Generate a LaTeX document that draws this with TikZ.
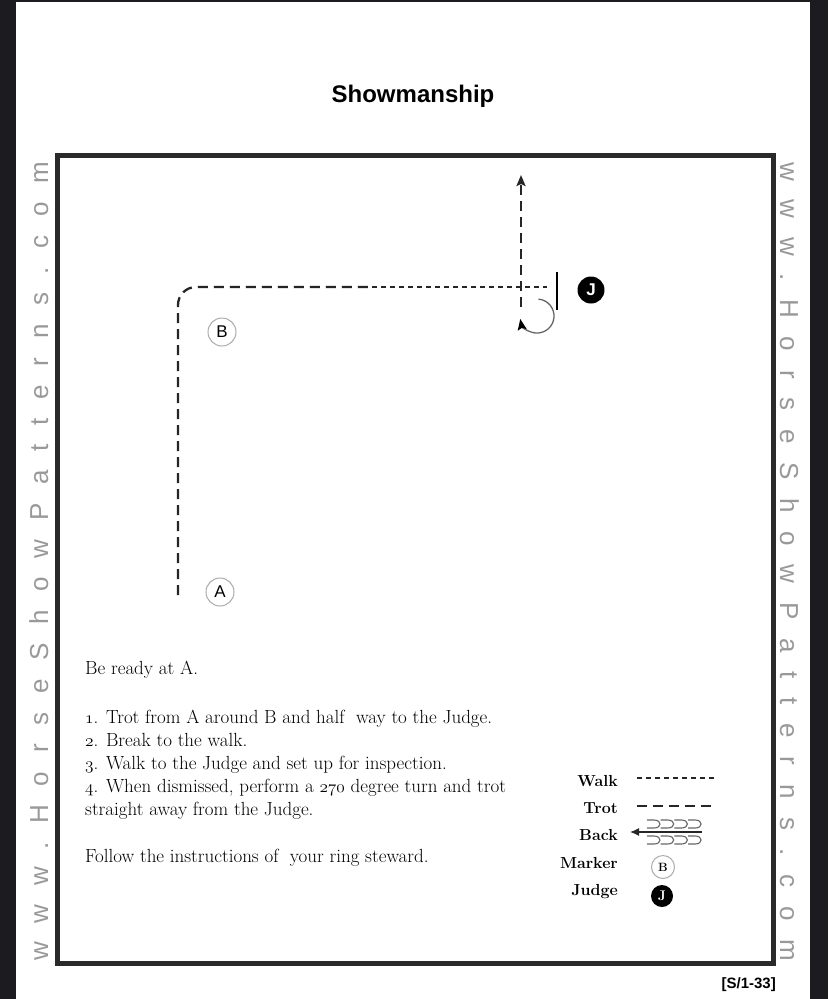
\documentclass[tikz,border=0pt]{standalone}
\usepackage{fontspec}
\usetikzlibrary{arrows.meta}
\newfontfamily\hsans{Liberation Sans}
\newfontfamily\wmfont[LetterSpace=72]{Liberation Sans}
\newcommand\osn[1]{{\fontencoding{OML}\fontfamily{cmm}\fontseries{m}\fontshape{it}\selectfont #1}}
\definecolor{pagebg}{HTML}{1C1C20}
\definecolor{arena}{HTML}{2A2A2A}
\definecolor{pathc}{HTML}{262626}
\definecolor{wmgray}{HTML}{999999}
\tikzset{
  wm/.style={font=\wmfont\fontsize{26}{26}\selectfont, text=wmgray, inner sep=0pt},
  trot/.style={draw=pathc, line width=2.3pt, dash pattern=on 10pt off 6pt},
  walk/.style={draw=pathc, line width=2.3pt, dash pattern=on 5pt off 4pt},
  marker/.style={circle, draw=gray!65, line width=1pt, minimum size=28pt, inner sep=0pt, font=\hsans\fontsize{17}{17}\selectfont},
  judge/.style={circle, fill=black, minimum size=27pt, inner sep=0pt, text=white, font=\hsans\bfseries\fontsize{17}{17}\selectfont},
  body/.style={anchor=base west, inner sep=0pt, align=left, font=\fontsize{19}{23}\selectfont},
  lgd/.style={anchor=base east, inner sep=0pt, font=\bfseries\fontsize{16}{16}\selectfont},
  ushape/.style={draw=gray!80!black, line width=1.1pt}
}
\begin{document}
\begin{tikzpicture}[x=1pt,y=-1pt]
\useasboundingbox (0,0) rectangle (828,999);
\fill[pagebg] (0,0) rectangle (828,999);
\fill[white] (16,2) rectangle (810,999);
% watermarks
\node[wm, rotate=90, anchor=base] (wmL) at (48,561) {www.HorseShowPatterns.com};
\node[wm, rotate=-90, anchor=base] (wmR) at (780,562) {www.HorseShowPatterns.com};
% title
\node[font=\hsans\bfseries\fontsize{24}{28}\selectfont] (title) at (413,96) {Showmanship};
% arena
\draw[line width=5pt, draw=arena] (57.5,155.5) rectangle (773.5,963.5);
% markers and judge
\node[marker] (B) at (222,332) {B};
\node[marker] (A) at (220,592) {A};
\node[judge] (J) at (591,290) {J};
\coordinate (jt) at (557,272);
\coordinate (jb) at (557,310);
\draw[line width=2.5pt] (jt) -- (jb);
% pattern
\coordinate (p0) at (178,595);
\coordinate (p1) at (178,287);
\coordinate (p2) at (372,287);
\coordinate (p3) at (547,287);
\coordinate (q0) at (521,307);
\coordinate (q1) at (521,175);
\draw[trot, rounded corners=18pt] (p0) -- (p1) -- (p2);
\draw[walk] (p2) -- (p3);
\draw[trot, -{Stealth[length=11pt,width=9pt,inset=2pt]}] (q0) -- (q1);
\draw[draw=gray!80!black, line width=1.3pt, -{Stealth[length=11pt,width=9pt,inset=2pt,black]}] (538.5,299.1) arc[start angle=-85, end angle=170, radius=17];
% text
\node[body] (t0) at (85,674) {Be ready at A.};
\node[body] (t1) at (85,815) {\osn{1}. Trot from A around B and half\ \ way to the Judge.\\
\osn{2}. Break to the walk.\\
\osn{3}. Walk to the Judge and set up for inspection.\\
\osn{4}. When dismissed, perform a \osn{270} degree turn and trot\\
straight away from the Judge.};
\node[body] (t2) at (85,862) {Follow the instructions of\ \ your ring steward.};
% legend
\node[lgd] (lw) at (618,786) {Walk};
\node[lgd] (lt) at (618,813) {Trot};
\node[lgd] (lb) at (618,840) {Back};
\node[lgd] (lm) at (618,868) {Marker};
\node[lgd] (lj) at (618,895) {Judge};
\coordinate (w0) at (637,778); \coordinate (w1) at (715,778);
\coordinate (r0) at (637,806); \coordinate (r1) at (715,806);
\draw[walk, line width=2pt] (w0) -- (w1);
\draw[trot, line width=2pt] (r0) -- (r1);
\coordinate (b0) at (702,832); \coordinate (b1) at (630,832);
\draw[draw=pathc, line width=1.3pt, -{Latex[length=9pt,width=8pt]}] (b0) -- (b1);
\foreach \i in {0,...,3}{
  \draw[ushape] (647+13.7*\i,820) -- (654+13.7*\i,820) .. controls (662+13.7*\i,820) and (662+13.7*\i,828) .. (654+13.7*\i,828) -- (647+13.7*\i,828);
  \draw[ushape] (647+13.7*\i,836) -- (654+13.7*\i,836) .. controls (662+13.7*\i,836) and (662+13.7*\i,844) .. (654+13.7*\i,844) -- (647+13.7*\i,844);
}
\node[marker, minimum size=23pt, font=\bfseries\fontsize{12}{12}\selectfont] (LB) at (663,867) {B};
\node[judge, minimum size=22pt, font=\bfseries\fontsize{14}{14}\selectfont] (LJ) at (662,896) {J};
% code
\node[anchor=east, inner sep=0pt, font=\hsans\bfseries\fontsize{15}{15}\selectfont] (code) at (776,985) {[S/1-33]};
\end{tikzpicture}
\end{document}
